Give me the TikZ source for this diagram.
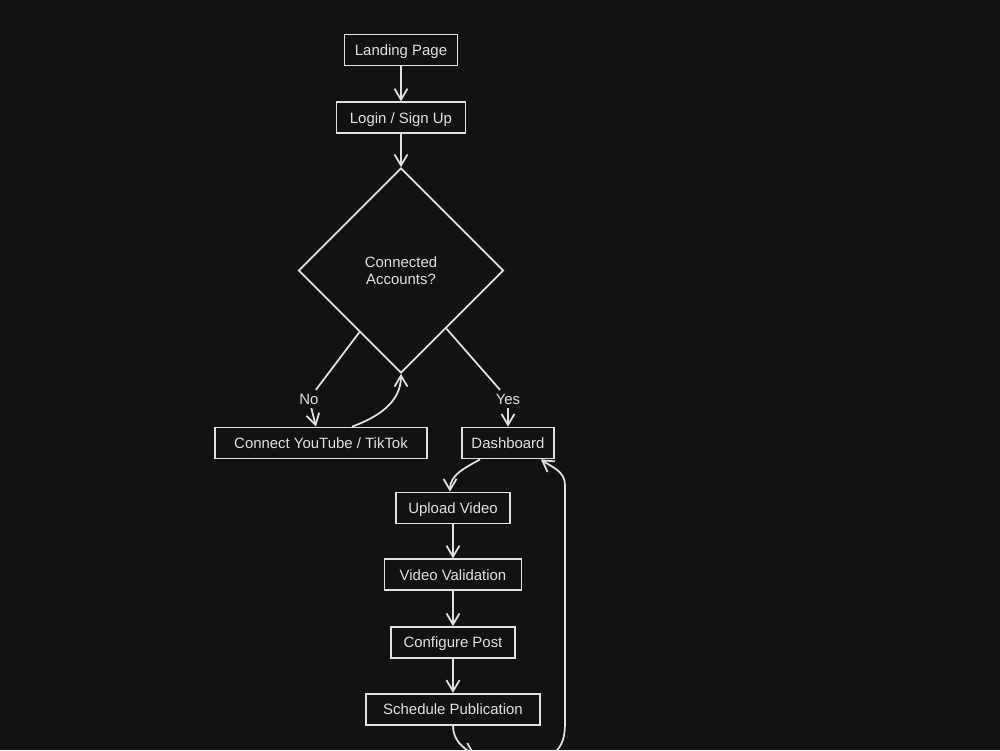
\documentclass[tikz,border=0pt]{standalone}
\usepackage{fontspec}
\setmainfont{Liberation Sans}
\usepackage{tikz}
\usetikzlibrary{positioning,arrows.meta,shapes.geometric}
\definecolor{pagebg}{RGB}{18,18,18}
\definecolor{inkline}{RGB}{225,225,225}

\begin{document}
\begin{tikzpicture}[
  node distance=7mm,
  box/.style={draw=inkline,line width=1pt,minimum height=6.2mm,align=center,
              font=\fontsize{8.5}{10}\selectfont,text=inkline,inner sep=3pt,
              text height=1.6ex,text depth=0.45ex},
  decision/.style={diamond,draw=inkline,line width=1pt,minimum width=41mm,
              minimum height=41mm,inner sep=0pt,align=center,
              font=\fontsize{8.5}{10}\selectfont,text=inkline},
  lbl/.style={font=\fontsize{8.5}{10}\selectfont,text=inkline,inner sep=2pt},
  ln/.style={draw=inkline,line width=1pt},
  ar/.style={ln,-{Straight Barb[length=2.2mm,width=2.6mm]}}
]
\fill[pagebg] (0,0) rectangle (20,-15);
\useasboundingbox (0,0) rectangle (20,-15);

\node[box,minimum width=22.6mm] (landing) at (8.02,-1.0) {Landing Page};
\node[box,minimum width=25.8mm,below=7mm of landing] (login) {Login / Sign Up};
\node[decision,below=6.6mm of login] (dec) {Connected\\Accounts?};
\node[box,minimum width=42.4mm] (conn) at (6.42,-8.86) {Connect YouTube / TikTok};
\node[box,minimum width=18.4mm] (dash) at (10.16,-8.86) {Dashboard};
\node[lbl] (nolbl) at (6.18,-7.98) {No};
\node[lbl] (yeslbl) at (10.16,-7.98) {Yes};
\node[box,minimum width=22.8mm] (upload) at (9.06,-10.16) {Upload Video};
\node[box,minimum width=27.4mm,below=6.8mm of upload] (valid) {Video Validation};
\node[box,minimum width=24.8mm,below=7mm of valid] (config) {Configure Post};
\node[box,minimum width=34.8mm,below=6.8mm of config] (sched) {Schedule Publication};
\coordinate (offout) at (9.5,-15.1);
\coordinate (offin) at (11.1,-15.05);
\coordinate (loopa) at (11.3,-14.4);
\coordinate (loopb) at (11.3,-9.7);

\draw[ar] (landing) -- (login);
\draw[ar] (login) -- (dec);
\draw[ln] (dec.-124) -- (nolbl);
\draw[ar] (nolbl) -- ([xshift=-1mm]conn.north);
\draw[ln] (dec.-52) -- (yeslbl);
\draw[ar] (yeslbl) -- (dash);
\draw[ar] ([xshift=6.2mm]conn.north) to[out=20,in=-90] (dec.south);
\draw[ar] ([xshift=-5.6mm]dash.south) to[out=-150,in=90] ([xshift=-0.6mm]upload.north);
\draw[ar] (upload) -- (valid);
\draw[ar] (valid) -- (config);
\draw[ar] (config) -- (sched);
\draw[ar] (sched.south) to[out=-90,in=150] (offout);
\draw[ar] (offin) to[out=45,in=-90] (loopa) -- (loopb)
  to[out=90,in=-35] ([xshift=-2.8mm]dash.south east);
\end{tikzpicture}
\end{document}
